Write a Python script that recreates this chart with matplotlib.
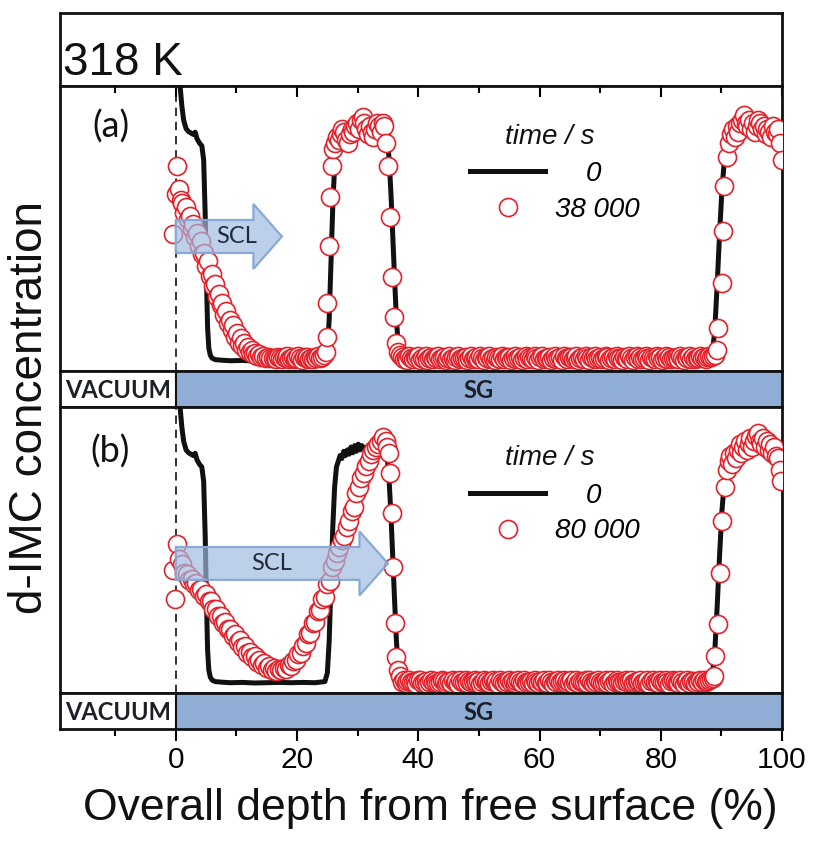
import matplotlib
matplotlib.use("Agg")
import matplotlib.pyplot as plt
from matplotlib.patches import FancyArrow
from matplotlib.ticker import MultipleLocator
from matplotlib.font_manager import FontProperties

plt.rcParams['font.family'] = ['Liberation Sans', 'DejaVu Sans']

# ---------------- data ----------------
# initial profile (t = 0), same in both panels
depth_t0 = [0.5, 0.75, 1.0, 1.3, 1.7, 2.1, 2.5, 2.9, 3.2, 3.5,
            3.9, 4.3, 4.6, 4.85, 5.05, 5.25, 5.45, 5.7, 6.0, 6.5,
            7.5, 9.0, 11.0, 13.0, 15.0, 17.0, 19.0, 21.0, 23.0, 24.6,
            25.0, 25.3, 25.6, 25.9, 26.2, 26.5, 26.8, 27.1, 27.4, 27.7,
            28.0, 28.3, 28.6, 28.9, 29.2, 29.5, 29.8, 30.1, 30.4, 30.7,
            31.0, 31.5, 32.0, 32.5, 33.0, 33.5, 34.0, 34.5, 34.9, 35.2,
            35.5, 35.8, 36.1, 36.4, 36.7, 37.0, 37.4, 38.0, 41.0, 45.0,
            50.0, 55.0, 60.0, 65.0, 70.0, 75.0, 80.0, 85.0, 88.0, 88.5,
            88.9, 89.3, 89.7, 90.1, 90.5, 90.9, 91.4, 92.0, 93.0, 94.0,
            95.0, 96.0, 97.0, 98.0, 99.0, 100.0]
conc_t0 = [1.10, 0.99, 0.93, 0.88, 0.85, 0.84, 0.835, 0.83, 0.838, 0.815,
           0.80, 0.79, 0.74, 0.55, 0.33, 0.15, 0.08, 0.055, 0.045, 0.04,
           0.038, 0.036, 0.037, 0.035, 0.036, 0.037, 0.036, 0.037, 0.036, 0.04,
           0.07, 0.18, 0.38, 0.58, 0.72, 0.79, 0.81, 0.83, 0.82, 0.845,
           0.83, 0.85, 0.835, 0.86, 0.84, 0.865, 0.845, 0.87, 0.85, 0.865,
           0.855, 0.86, 0.865, 0.86, 0.87, 0.865, 0.86, 0.85, 0.82, 0.74,
           0.62, 0.47, 0.32, 0.18, 0.09, 0.05, 0.04, 0.038, 0.037, 0.038,
           0.036, 0.037, 0.038, 0.036, 0.037, 0.038, 0.036, 0.037, 0.04, 0.06,
           0.14, 0.30, 0.48, 0.64, 0.74, 0.80, 0.83, 0.84, 0.85, 0.85,
           0.84, 0.85, 0.84, 0.83, 0.83, 0.82]

# depth positions of the flat sampling window between the two buried layers
depth_bulk = [37.3, 37.6, 37.9, 38.2, 38.5, 38.8, 39.1, 39.4, 39.7, 40.0,
              40.3, 40.6, 40.9, 41.2, 41.5, 41.8, 42.1, 42.4, 42.7, 43.0,
              43.3, 43.6, 43.9, 44.2, 44.5, 44.8, 45.1, 45.4, 45.7, 46.0,
              46.3, 46.6, 46.9, 47.2, 47.5, 47.8, 48.1, 48.4, 48.7, 49.0,
              49.3, 49.6, 49.9, 50.2, 50.5, 50.8, 51.1, 51.4, 51.7, 52.0,
              52.3, 52.6, 52.9, 53.2, 53.5, 53.8, 54.1, 54.4, 54.7, 55.0,
              55.3, 55.6, 55.9, 56.2, 56.5, 56.8, 57.1, 57.4, 57.7, 58.0,
              58.3, 58.6, 58.9, 59.2, 59.5, 59.8, 60.1, 60.4, 60.7, 61.0,
              61.3, 61.6, 61.9, 62.2, 62.5, 62.8, 63.1, 63.4, 63.7, 64.0,
              64.3, 64.6, 64.9, 65.2, 65.5, 65.8, 66.1, 66.4, 66.7, 67.0,
              67.3, 67.6, 67.9, 68.2, 68.5, 68.8, 69.1, 69.4, 69.7, 70.0,
              70.3, 70.6, 70.9, 71.2, 71.5, 71.8, 72.1, 72.4, 72.7, 73.0,
              73.3, 73.6, 73.9, 74.2, 74.5, 74.8, 75.1, 75.4, 75.7, 76.0,
              76.3, 76.6, 76.9, 77.2, 77.5, 77.8, 78.1, 78.4, 78.7, 79.0,
              79.3, 79.6, 79.9, 80.2, 80.5, 80.8, 81.1, 81.4, 81.7, 82.0,
              82.3, 82.6, 82.9, 83.2, 83.5, 83.8, 84.1, 84.4, 84.7, 85.0,
              85.3, 85.6, 85.9, 86.2, 86.5, 86.8, 87.1, 87.4, 87.7, 88.0,
              88.3, 88.6]

# profile after 38 000 s
depth_38k = ([-0.4, 0.0, 0.2, 0.5, 0.8,
              1.1, 1.4, 1.7, 2.0, 2.3, 2.6, 2.9, 3.2, 3.5, 3.8,
              4.1, 4.4, 4.7, 5.0, 5.3, 5.6, 5.9, 6.2, 6.5, 6.8,
              7.1, 7.4, 7.7, 8.0, 8.3, 8.6, 8.9, 9.2, 9.5, 9.8,
              10.1, 10.4, 10.7, 11.0, 11.3, 11.6, 11.9, 12.2, 12.5, 12.8,
              13.1, 13.4, 13.7, 14.0, 14.4, 14.8, 15.2, 15.6, 16.0,
              16.3, 16.6, 16.9, 17.2, 17.5, 17.8, 18.1, 18.4, 18.7, 19.0,
              19.3, 19.6, 19.9, 20.2, 20.5, 20.8, 21.1, 21.4, 21.7, 22.0,
              22.3, 22.6, 22.9, 23.2, 23.5, 23.8, 24.1, 24.4,
              24.7, 24.9, 25.0, 25.2, 25.4, 25.7,
              26.0, 26.3, 26.6, 26.9, 27.2, 27.5, 27.8, 28.1, 28.4, 28.7,
              29.0, 29.3, 29.6, 29.9, 30.2, 30.5, 30.8, 31.1, 31.4, 31.7,
              32.0, 32.3, 32.6, 32.9, 33.2, 33.5, 33.8, 34.1, 34.4, 34.7,
              35.0, 35.3, 35.6, 36.0, 36.4, 36.7, 37.0]
             + depth_bulk
             + [88.9, 89.3, 89.4, 90.1, 90.2, 90.4, 91.0,
                91.3, 91.6, 91.9, 92.2, 92.5, 92.8, 93.1, 93.4, 93.7, 94.0,
                94.3, 94.6, 94.9, 95.2, 95.5, 95.8, 96.1, 96.4, 96.7, 97.0,
                97.3, 97.6, 97.9, 98.2, 98.5, 98.8, 99.1, 99.4, 99.7, 100.0])
conc_38k = [0.48, 0.62, 0.72, 0.64, 0.60,
            0.59, 0.555, 0.575, 0.535, 0.545, 0.50, 0.515, 0.47, 0.485, 0.44,
            0.455, 0.41, 0.415, 0.37, 0.385, 0.335, 0.34, 0.30, 0.305, 0.26,
            0.27, 0.23, 0.24, 0.195, 0.21, 0.17, 0.18, 0.145, 0.16, 0.12,
            0.135, 0.10, 0.115, 0.088, 0.099, 0.075, 0.085, 0.065, 0.073, 0.058,
            0.064, 0.052, 0.058, 0.048, 0.053, 0.045, 0.049, 0.044, 0.047,
            0.047, 0.043, 0.050, 0.044, 0.041, 0.048, 0.045, 0.051, 0.042, 0.046,
            0.049, 0.043, 0.047, 0.052, 0.044, 0.040, 0.048, 0.045, 0.050, 0.043,
            0.047, 0.041, 0.049, 0.045, 0.052, 0.046, 0.050, 0.056,
            0.065, 0.12, 0.24, 0.44, 0.61, 0.72,
            0.78, 0.80, 0.82, 0.81, 0.83, 0.85, 0.84, 0.81, 0.80, 0.83,
            0.85, 0.84, 0.86, 0.87, 0.85, 0.88, 0.89, 0.87, 0.85, 0.83,
            0.86, 0.84, 0.82, 0.85, 0.87, 0.86, 0.84, 0.87, 0.86, 0.80,
            0.72, 0.54, 0.33, 0.19, 0.10, 0.065, 0.055,
            # bulk window
            0.050, 0.043, 0.047, 0.039, 0.052, 0.045, 0.041, 0.049, 0.044, 0.053,
            0.040, 0.047, 0.043, 0.051, 0.038, 0.046, 0.050, 0.042, 0.048, 0.044,
            0.052, 0.041, 0.046, 0.049, 0.039, 0.045, 0.053, 0.043, 0.047, 0.040,
            0.048, 0.051, 0.042, 0.046, 0.044, 0.050, 0.038, 0.047, 0.052, 0.043,
            0.045, 0.049, 0.041, 0.053, 0.044, 0.040, 0.048, 0.046, 0.051, 0.042,
            0.047, 0.039, 0.050, 0.045, 0.043, 0.052, 0.041, 0.048, 0.044, 0.049,
            0.040, 0.046, 0.053, 0.042, 0.047, 0.050, 0.038, 0.045, 0.051, 0.043,
            0.049, 0.044, 0.041, 0.052, 0.046, 0.039, 0.048, 0.053, 0.042, 0.047,
            0.045, 0.050, 0.040, 0.047, 0.051, 0.043, 0.046, 0.049, 0.038, 0.052,
            0.044, 0.041, 0.048, 0.050, 0.043, 0.047, 0.052, 0.040, 0.045, 0.049,
            0.042, 0.053, 0.046, 0.039, 0.048, 0.044, 0.051, 0.043, 0.047, 0.050,
            0.041, 0.045, 0.052, 0.048, 0.038, 0.046, 0.049, 0.042, 0.053, 0.044,
            0.047, 0.040, 0.050, 0.045, 0.043, 0.051, 0.046, 0.039, 0.048, 0.052,
            0.043, 0.049, 0.041, 0.047, 0.053, 0.044, 0.040, 0.050, 0.046, 0.042,
            0.051, 0.045, 0.048, 0.039, 0.046, 0.052, 0.043, 0.049, 0.041, 0.047,
            0.044, 0.050, 0.042, 0.053, 0.045, 0.040, 0.048, 0.046, 0.051, 0.043,
            0.049, 0.041, 0.047, 0.044, 0.052, 0.046, 0.050, 0.043, 0.048, 0.052,
            0.050, 0.054,
            # second buried layer
            0.055, 0.074, 0.15, 0.31, 0.49, 0.65, 0.75,
            0.80, 0.83, 0.85, 0.82, 0.86, 0.84, 0.87, 0.88, 0.90, 0.87,
            0.86, 0.88, 0.85, 0.87, 0.84, 0.86, 0.88, 0.87, 0.85, 0.86,
            0.83, 0.85, 0.84, 0.82, 0.86, 0.84, 0.83, 0.85, 0.80, 0.74]

# profile after 80 000 s
depth_80k = ([-0.5, -0.2, 0.2, 0.6,
              1.0, 1.4, 1.8, 2.2, 2.6, 3.0, 3.4, 3.8, 4.2, 4.6,
              5.0, 5.4, 5.8, 6.2, 6.6, 7.0, 7.4, 7.8, 8.2, 8.6,
              9.0, 9.4, 9.8, 10.2, 10.6, 11.0, 11.4, 11.8, 12.2, 12.6,
              13.0, 13.4, 13.8, 14.2, 14.6, 15.0, 15.4, 15.8, 16.2, 16.6,
              17.0, 17.4, 17.8, 18.2, 18.6, 19.0, 19.4, 19.8, 20.2, 20.6,
              21.0, 21.4, 21.8, 22.2, 22.6, 23.0, 23.4, 23.8, 24.2, 24.6,
              25.0, 25.4, 25.8, 26.2, 26.6, 27.0, 27.4, 27.8, 28.2, 28.6,
              29.0, 29.4, 29.8, 30.2, 30.6, 31.0, 31.4, 31.8, 32.2, 32.6,
              33.0, 33.4, 33.8, 34.2, 34.6,
              34.9, 35.1, 35.3, 35.6, 35.9, 36.1, 36.4, 36.7, 37.0]
             + depth_bulk
             + [88.8, 89.0, 89.4, 89.8, 90.1, 90.6,
                90.9, 91.2, 91.5, 91.8, 92.1, 92.4, 92.7, 93.0, 93.3, 93.6,
                93.9, 94.2, 94.5, 94.8, 95.1, 95.4, 95.7, 96.0, 96.3, 96.6,
                96.9, 97.2, 97.5, 97.8, 98.1, 98.4, 98.7, 99.0, 99.3, 99.6, 99.9])
conc_80k = [0.43, 0.33, 0.52, 0.47,
            0.45, 0.42, 0.415, 0.395, 0.40, 0.38, 0.385, 0.36, 0.365, 0.34,
            0.345, 0.32, 0.32, 0.295, 0.295, 0.27, 0.27, 0.245, 0.25, 0.225,
            0.225, 0.20, 0.205, 0.18, 0.185, 0.16, 0.165, 0.14, 0.145, 0.125,
            0.13, 0.11, 0.115, 0.098, 0.105, 0.088, 0.095, 0.082, 0.088, 0.078,
            0.085, 0.08, 0.088, 0.085, 0.098, 0.095, 0.112, 0.115, 0.135, 0.14,
            0.165, 0.175, 0.205, 0.21, 0.245, 0.25, 0.285, 0.29, 0.33, 0.335,
            0.38, 0.39, 0.44, 0.46, 0.49, 0.51, 0.535, 0.55, 0.58, 0.60,
            0.635, 0.65, 0.70, 0.72, 0.75, 0.77, 0.795, 0.81, 0.835, 0.85,
            0.86, 0.87, 0.88, 0.895, 0.88,
            0.86, 0.84, 0.77, 0.63, 0.44, 0.245, 0.126, 0.08, 0.06,
            # bulk window
            0.039, 0.044, 0.034, 0.041, 0.045, 0.037, 0.040, 0.043, 0.032, 0.046,
            0.046, 0.035, 0.040, 0.043, 0.033, 0.039, 0.047, 0.037, 0.041, 0.034,
            0.035, 0.039, 0.046, 0.042, 0.032, 0.040, 0.043, 0.036, 0.047, 0.038,
            0.041, 0.033, 0.044, 0.039, 0.037, 0.046, 0.035, 0.042, 0.038, 0.043,
            0.045, 0.039, 0.042, 0.033, 0.040, 0.046, 0.037, 0.043, 0.035, 0.041,
            0.044, 0.037, 0.041, 0.033, 0.046, 0.039, 0.035, 0.043, 0.038, 0.047,
            0.037, 0.043, 0.035, 0.041, 0.047, 0.038, 0.034, 0.044, 0.040, 0.036,
            0.039, 0.043, 0.035, 0.047, 0.038, 0.034, 0.042, 0.040, 0.045, 0.036,
            0.036, 0.047, 0.040, 0.033, 0.042, 0.038, 0.045, 0.037, 0.041, 0.044,
            0.034, 0.041, 0.037, 0.045, 0.032, 0.040, 0.044, 0.036, 0.042, 0.038,
            0.038, 0.044, 0.036, 0.047, 0.039, 0.034, 0.042, 0.040, 0.045, 0.037,
            0.034, 0.040, 0.047, 0.036, 0.041, 0.044, 0.032, 0.039, 0.045, 0.037,
            0.038, 0.035, 0.042, 0.044, 0.037, 0.041, 0.046, 0.034, 0.039, 0.043,
            0.042, 0.045, 0.036, 0.040, 0.038, 0.044, 0.032, 0.041, 0.046, 0.037,
            0.041, 0.034, 0.044, 0.039, 0.037, 0.045, 0.040, 0.033, 0.042, 0.046,
            0.043, 0.038, 0.035, 0.046, 0.040, 0.033, 0.042, 0.047, 0.036, 0.041,
            0.043, 0.035, 0.041, 0.038, 0.046, 0.040, 0.044, 0.037, 0.042, 0.046,
            0.048, 0.052,
            # second buried layer
            0.06, 0.13, 0.24, 0.42, 0.60, 0.72,
            0.78, 0.81, 0.83, 0.80, 0.84, 0.82, 0.85, 0.87, 0.84, 0.86,
            0.88, 0.85, 0.87, 0.89, 0.86, 0.88, 0.90, 0.91, 0.88, 0.87,
            0.89, 0.86, 0.88, 0.85, 0.87, 0.84, 0.86, 0.83, 0.82, 0.78, 0.74]

temperature_label = "318 K"
panel_tags = ["(a)", "(b)"]
legend_title = "time / s"
time_labels = [("0", "38 000"), ("0", "80 000")]
layer_names = ["VACUUM", "SG"]
layer_edges = [-19.1, 0.0, 100.0]
x_label = "Overall depth from free surface (%)"
y_label = "d-IMC concentration"

# ---------------- style ----------------
RED = "#e3212b"
BLACK = "#111111"
SG_BLUE = "#8fadd5"
XLIM = (layer_edges[0], layer_edges[-1])
SPINE_W = 2.0

W, H = 815, 841
fig = plt.figure(figsize=(W / 100, H / 100), dpi=100)


def add_band(top, bottom, left=60, right=782):
    ax = fig.add_axes([left / W, 1 - bottom / H, (right - left) / W, (bottom - top) / H])
    ax.set_xlim(*XLIM)
    ax.set_ylim(0, 1)
    ax.set_yticks([])
    ax.tick_params(axis='x', which='both', bottom=False, top=False,
                   labelbottom=False, labeltop=False)
    for s in ax.spines.values():
        s.set_linewidth(SPINE_W)
        s.set_color(BLACK)
    return ax


ax_title = add_band(13, 86)
ax_a = add_band(86, 371)
ax_bar_a = add_band(371, 407)
ax_b = add_band(407, 693)
ax_bar_b = add_band(693, 729)

# temperature header
ax_title.text(0.004, 0.15, temperature_label, transform=ax_title.transAxes,
              fontsize=33, ha='left', va='baseline', color=BLACK)

leg_font = FontProperties(family='Liberation Sans', style='italic', size=20)

panels = [
    (ax_a, depth_38k, conc_38k, time_labels[0], panel_tags[0], 0.856, 0.821, 0.628,
     17.5, 0.472, 0.116, 0.228, 10.0),
    (ax_b, depth_80k, conc_80k, time_labels[1], panel_tags[1], 0.843, 0.822, 0.628,
     35.0, 0.453, 0.115, 0.224, 15.8),
]

for (ax, dx, dy, labels, tag, tag_y, title_y, leg_y,
     tip, y_mid, body_w, head_w, scl_x) in panels:
    ax.axvline(0, color=BLACK, lw=1.2, ls=(0, (5, 3.5)), zorder=1)
    ax.plot(depth_t0, conc_t0, color=BLACK, lw=3.6, zorder=2,
            solid_joinstyle='round', label="    " + labels[0])
    ax.plot(dx, dy, ls='none', marker='o', ms=13, mfc='white', mec=RED,
            mew=1.2, zorder=3, label=labels[1])
    arrow = FancyArrow(0, y_mid, tip, 0, width=body_w, head_width=head_w,
                       head_length=4.7, length_includes_head=True,
                       fc=(0.62, 0.73, 0.88, 0.68), ec=(0.52, 0.65, 0.83, 0.95),
                       lw=1.6, zorder=4)
    ax.add_patch(arrow)
    ax.text(scl_x, y_mid, "SCL", family='Lato', fontsize=17, ha='center',
            va='center', color='#222a3a', zorder=5)
    ax.text(0.07, tag_y, tag, transform=ax.transAxes, family='Lato',
            fontsize=26, ha='center', va='center', color=BLACK)
    ax.text(0.679, title_y, legend_title, transform=ax.transAxes,
            fontproperties=leg_font, ha='center', va='center', color=BLACK)
    ax.legend(loc='center', bbox_to_anchor=(0.6856, leg_y), frameon=False,
              prop=leg_font, handlelength=2.7, handletextpad=0.36,
              labelspacing=0.35, borderpad=0, borderaxespad=0, numpoints=1)

# layer bars
for ax in (ax_bar_a, ax_bar_b):
    for name, x0, x1, col in zip(layer_names, layer_edges[:-1], layer_edges[1:],
                                 ['white', SG_BLUE]):
        ax.axvspan(x0, x1, color=col, zorder=0)
        ax.text((x0 + x1) / 2, 0.45, name, family='Lato', weight='bold',
                fontsize=17, ha='center', va='center', color='#1c1f26')
    ax.axvline(layer_edges[1], color=BLACK, lw=1.5)

# ticks: inward on top of panel (a), outward on the bottom bar
ax_a.xaxis.set_major_locator(MultipleLocator(20))
ax_a.xaxis.set_minor_locator(MultipleLocator(10))
ax_a.tick_params(axis='x', which='both', top=True, direction='in', width=1.5)
ax_a.tick_params(axis='x', which='major', length=8)
ax_a.tick_params(axis='x', which='minor', length=5)

ax_bar_b.xaxis.set_major_locator(MultipleLocator(20))
ax_bar_b.xaxis.set_minor_locator(MultipleLocator(10))
ax_bar_b.tick_params(axis='x', which='both', bottom=True, direction='out', width=1.5)
ax_bar_b.tick_params(axis='x', which='major', length=8.6, labelbottom=True,
                     labelsize=21.5, pad=4)
ax_bar_b.tick_params(axis='x', which='minor', length=5)

fig.text(430 / W, 1 - 820 / H, x_label, fontsize=32, ha='center', va='baseline', color=BLACK)
fig.text(30 / W, 1 - 407 / H, y_label, fontsize=33, rotation=90, ha='center',
         va='center', color=BLACK)

fig.savefig("out.png", dpi=100)
